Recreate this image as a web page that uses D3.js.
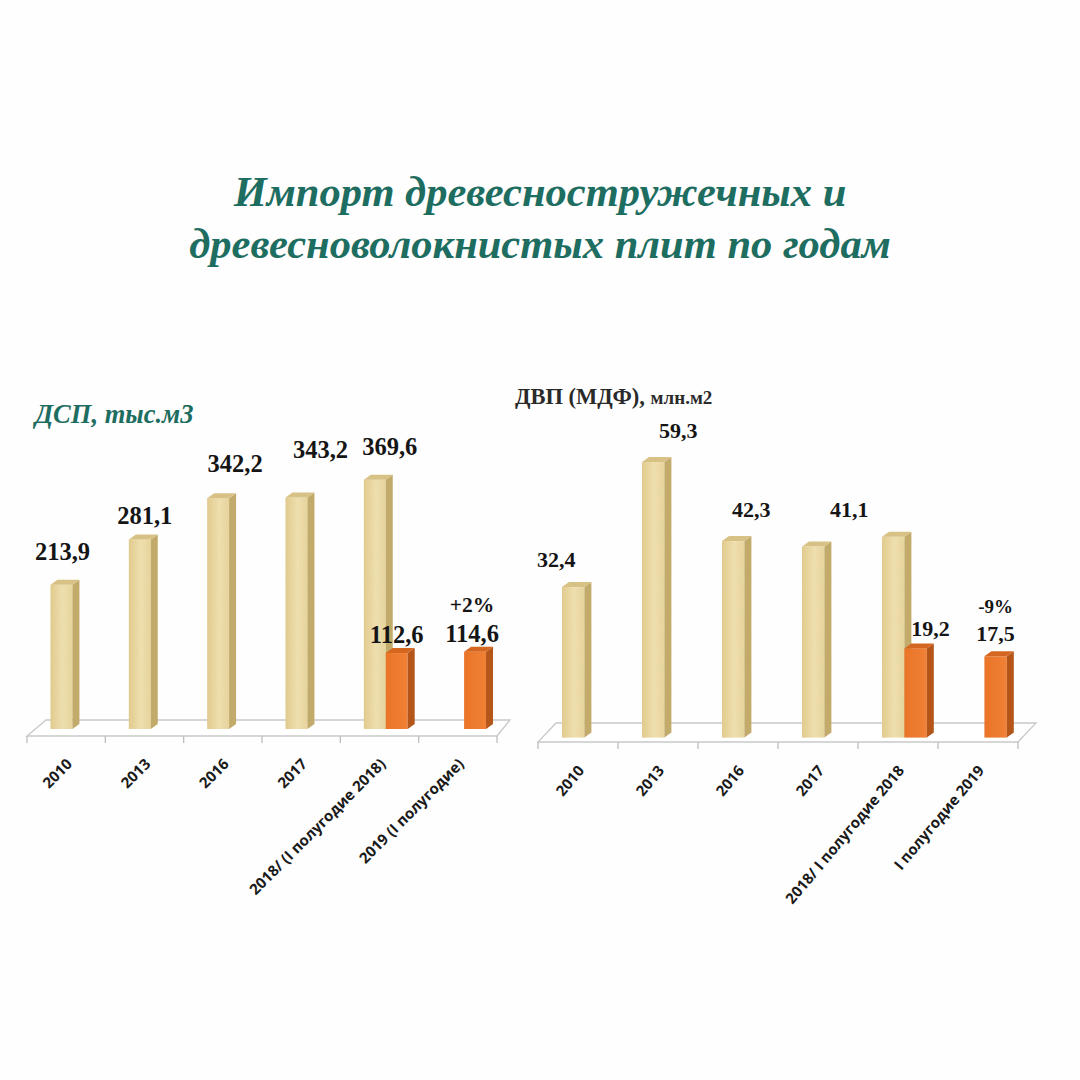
<!DOCTYPE html>
<html>
<head>
<meta charset="utf-8">
<script src="https://cdn.jsdelivr.net/npm/d3@7"></script>
<style>
  html, body { margin: 0; padding: 0; background: #fff; }
  svg { display: block; }
</style>
</head>
<body>
<svg id="chart" width="1080" height="1080"></svg>
<script>
// ---- data ----
const titleLines = ['Импорт древесностружечных и', 'древесноволокнистых плит по годам'];

const dspCategories = ['2010', '2013', '2016', '2017', '2018/ (I полугодие 2018)', '2019 (I полугодие)'];
const dspAnnual = [213.9, 281.1, 342.2, 343.2, 369.6, null];
const dspHalfYear = [null, null, null, null, 112.6, 114.6];
const dspChange = '+2%';

const dvpCategories = ['2010', '2013', '2016', '2017', '2018/ I полугодие 2018', 'I полугодие 2019'];
const dvpAnnual = [32.4, 59.3, 42.3, 41.1, 43.2, null];
const dvpHalfYear = [null, null, null, null, 19.2, 17.5];
const dvpChange = '-9%';

// ---- layout ----
const panels = [
  {
    categories: dspCategories, annual: dspAnnual, half: dspHalfYear, change: dspChange,
    xRange: [27, 497], yDomain: [0, 400], yRange: [729, 459.2],
    floor: { front: 736, back: 720, leftDepth: 19, rightDepth: 13 },
    labelSize: 24.5,
    tickAngle: -45,
    // [dx from bar centre, lift above bar top]
    nudgeAnnual: [[1, 25], [5, 15], [17, 26], [24, 40], [15, 25], null],
    nudgeHalf: [null, null, null, null, [0, 10], [-3, 10]],
    changeLift: 40,
    hideAnnual: [],
  },
  {
    categories: dvpCategories, annual: dvpAnnual, half: dvpHalfYear, change: dvpChange,
    xRange: [538, 1018], yDomain: [0, 60], yRange: [737.6, 458.8],
    floor: { front: 742, back: 723, leftDepth: 18, rightDepth: 18 },
    labelSize: 22,
    tickAngle: -50,
    nudgeAnnual: [[-17, 20], [25, 24], [18, 24], [36, 30], null, null],
    nudgeHalf: [null, null, null, null, [15, 12], [0, 15]],
    changeLift: 43,
    hideAnnual: [4],
  },
];

const depth = { dx: 7, dy: -5 };
const fmt = function(v) { return d3.format('.1f')(v).replace('.', ','); };

const svg = d3.select('#chart');

svg.append('rect')
  .attr('width', 1080).attr('height', 1080)
  .attr('fill', '#fefefe');

// gradients for the bar faces
const defs = svg.append('defs');
const gYellow = defs.append('linearGradient').attr('id', 'yellowFront');
gYellow.append('stop').attr('offset', '0%').attr('stop-color', '#e4cd90');
gYellow.append('stop').attr('offset', '55%').attr('stop-color', '#f3e4b4');
gYellow.append('stop').attr('offset', '100%').attr('stop-color', '#ead7a0');
const gOrange = defs.append('linearGradient').attr('id', 'orangeFront');
gOrange.append('stop').attr('offset', '0%').attr('stop-color', '#ea7427');
gOrange.append('stop').attr('offset', '100%').attr('stop-color', '#f08136');

// slight grain on the light bars
const grain = defs.append('filter').attr('id', 'grain');
grain.append('feTurbulence')
  .attr('type', 'fractalNoise').attr('baseFrequency', 0.9).attr('numOctaves', 2).attr('result', 'n');
grain.append('feColorMatrix')
  .attr('in', 'n').attr('type', 'matrix')
  .attr('values', '0 0 0 0 0.55  0 0 0 0 0.45  0 0 0 0 0.2  0 0 0 0.22 0')
  .attr('result', 'c');
grain.append('feComposite').attr('in', 'c').attr('in2', 'SourceGraphic').attr('operator', 'in').attr('result', 'g');
const gm = grain.append('feMerge');
gm.append('feMergeNode').attr('in', 'SourceGraphic');
gm.append('feMergeNode').attr('in', 'g');

const colors = {
  annual: { front: 'url(#yellowFront)', side: '#c2aa6a', top: '#d8c184' },
  half: { front: 'url(#orangeFront)', side: '#b4551a', top: '#d4661f' },
};

// ---- title ----
svg.append('g')
  .attr('font-family', '"Liberation Serif", "DejaVu Serif", serif')
  .attr('font-style', 'italic')
  .attr('font-weight', 'bold')
  .attr('font-size', 42.5)
  .attr('fill', '#1e6d61')
  .attr('text-anchor', 'middle')
  .selectAll('text')
  .data(titleLines)
  .enter()
  .append('text')
  .attr('x', 540)
  .attr('y', function(d, i) { return 206 + i * 52; })
  .text(function(d) { return d; });

// panel subtitles
svg.append('text')
  .attr('x', 35).attr('y', 423)
  .attr('font-family', '"Liberation Serif", serif')
  .attr('font-style', 'italic').attr('font-weight', 'bold')
  .attr('font-size', 26.5)
  .attr('fill', '#1e6d61')
  .text('ДСП, тыс.м3');

const sub2 = svg.append('text')
  .attr('x', 515).attr('y', 404)
  .attr('font-family', '"Liberation Serif", serif')
  .attr('font-weight', 'bold')
  .attr('fill', '#2a2a2a');
sub2.append('tspan').attr('font-size', 22.5).text('ДВП (МДФ), ');
sub2.append('tspan').attr('font-size', 19).text('млн.м2');

panels.forEach(drawPanel);

function drawPanel(p) {
  const g = svg.append('g');

  const x0 = d3.scaleBand().domain(p.categories).range(p.xRange).padding(0);
  const bw = x0.bandwidth();
  const x1 = d3.scaleBand().domain(['annual', 'half']).range([0.3 * bw, 0.86 * bw]);
  const y = d3.scaleLinear().domain(p.yDomain).range(p.yRange);

  // floor
  const f = p.floor;
  const x0min = p.xRange[0], x0max = p.xRange[1];
  g.append('polygon')
    .attr('points', [
      [x0min, f.front], [x0max, f.front],
      [x0max + f.rightDepth, f.back], [x0min + f.leftDepth, f.back],
    ].join(' '))
    .attr('fill', '#ffffff')
    .attr('stroke', '#c9c9c9')
    .attr('stroke-width', 1.3);

  // category axis ticks
  const bounds = p.categories.map(function(c) { return x0(c); }).concat([x0max]);
  g.append('g')
    .selectAll('line')
    .data(bounds)
    .enter()
    .append('line')
    .attr('x1', function(d) { return d; })
    .attr('x2', function(d) { return d; })
    .attr('y1', f.front)
    .attr('y2', f.front + 7)
    .attr('stroke', '#bdbdbd')
    .attr('stroke-width', 1.3);

  g.append('g')
    .attr('font-family', '"Open Sans", "Liberation Sans", sans-serif')
    .attr('font-weight', 'bold')
    .attr('font-size', 15)
    .attr('fill', '#1a1a1a')
    .attr('text-anchor', 'end')
    .selectAll('text')
    .data(p.categories)
    .enter()
    .append('text')
    .attr('transform', function(d) {
      const cx = x0(d) + bw / 2 + 7;
      return 'translate(' + cx + ',' + (f.front + 29) + ') rotate(' + p.tickAngle + ')';
    })
    .text(function(d) { return d; });

  // bars
  const bars = [];
  p.categories.forEach(function(c, i) {
    if (p.annual[i] != null) bars.push({ key: 'annual', cat: c, i: i, value: p.annual[i] });
    if (p.half[i] != null) bars.push({ key: 'half', cat: c, i: i, value: p.half[i] });
  });

  const w = x1.bandwidth();
  const bar = g.append('g')
    .selectAll('g')
    .data(bars)
    .enter()
    .append('g');

  bar.append('rect')
    .attr('x', function(d) { return x0(d.cat) + x1(d.key); })
    .attr('y', function(d) { return y(d.value); })
    .attr('width', w)
    .attr('height', function(d) { return y(0) - y(d.value); })
    .attr('fill', function(d) { return colors[d.key].front; })
    .attr('filter', function(d) { return d.key === 'annual' ? 'url(#grain)' : null; });

  bar.append('polygon')
    .attr('points', function(d) {
      const xr = x0(d.cat) + x1(d.key) + w, yt = y(d.value), yb = y(0);
      return [[xr, yt], [xr + depth.dx, yt + depth.dy], [xr + depth.dx, yb + depth.dy], [xr, yb]].join(' ');
    })
    .attr('fill', function(d) { return colors[d.key].side; });

  bar.append('polygon')
    .attr('points', function(d) {
      const xl = x0(d.cat) + x1(d.key), yt = y(d.value);
      return [[xl, yt], [xl + w, yt], [xl + w + depth.dx, yt + depth.dy], [xl + depth.dx, yt + depth.dy]].join(' ');
    })
    .attr('fill', function(d) { return colors[d.key].top; });

  // value labels
  const labels = g.append('g')
    .attr('font-family', '"Liberation Serif", "DejaVu Serif", serif')
    .attr('font-weight', 'bold')
    .attr('font-size', p.labelSize)
    .attr('fill', '#151515')
    .attr('text-anchor', 'middle');

  labels.selectAll('text')
    .data(bars.filter(function(d) {
      return !(d.key === 'annual' && p.hideAnnual.indexOf(d.i) >= 0);
    }))
    .enter()
    .append('text')
    .attr('x', function(d) {
      const n = (d.key === 'annual' ? p.nudgeAnnual : p.nudgeHalf)[d.i];
      return x0(d.cat) + x1(d.key) + w / 2 + n[0];
    })
    .attr('y', function(d) {
      const n = (d.key === 'annual' ? p.nudgeAnnual : p.nudgeHalf)[d.i];
      return y(d.value) - n[1];
    })
    .text(function(d) { return fmt(d.value); });

  // change vs previous half-year, above the last bar
  const last = p.categories.length - 1;
  labels.append('text')
    .attr('font-size', p.labelSize - 3)
    .attr('x', x0(p.categories[last]) + x1('half') + w / 2 + p.nudgeHalf[last][0])
    .attr('y', y(p.half[last]) - p.changeLift)
    .text(p.change);
}
</script>
</body>
</html>
